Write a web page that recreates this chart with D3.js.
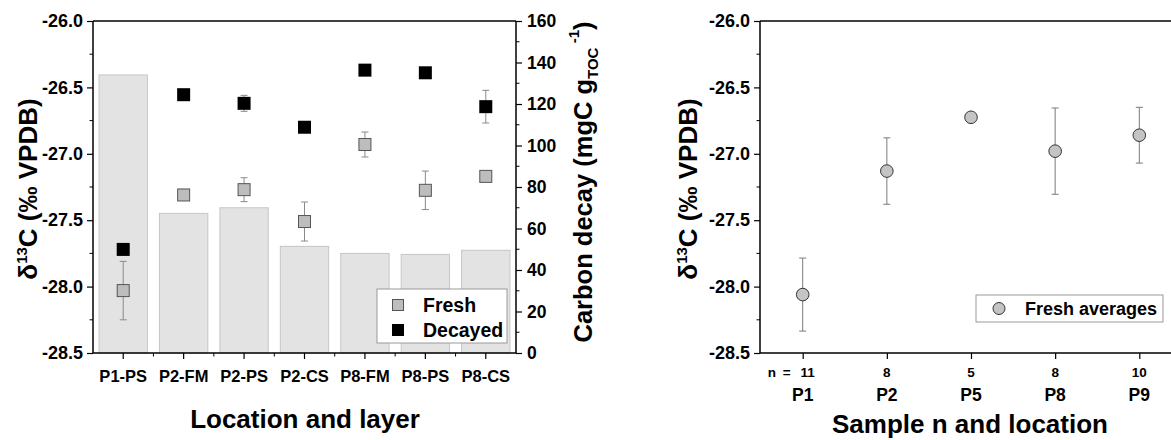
<!DOCTYPE html>
<html>
<head>
<meta charset="utf-8">
<script src="https://cdn.jsdelivr.net/npm/d3@7"></script>
<style>
  html, body { margin: 0; padding: 0; background: #fff; }
  svg { display: block; }
  svg text { font-family: "Liberation Sans", Arial, sans-serif; font-weight: bold; fill: #000; }
</style>
</head>
<body>
<svg id="chart" width="1171" height="440"></svg>
<script>
// ---- Left panel: location and layer ----
const layers = ["P1-PS", "P2-FM", "P2-PS", "P2-CS", "P8-FM", "P8-PS", "P8-CS"];
const carbonDecay = [134, 67.3, 70, 51.4, 48, 47.5, 49.5];           // mgC gTOC-1 (bars)
const freshD13C = [-28.03, -27.31, -27.27, -27.51, -26.93, -27.275, -27.17];
const freshErr = [0.22, 0.02, 0.09, 0.147, 0.094, 0.145, 0.02];
const decayedD13C = [-27.72, -26.555, -26.62, -26.80, -26.37, -26.39, -26.645];
const decayedErr = [0.0, 0.02, 0.06, 0.0, 0.0, 0.0, 0.123];

// ---- Right panel: fresh averages per location ----
const locations = ["P1", "P2", "P5", "P8", "P9"];
const sampleN = ["11", "8", "5", "8", "10"];
const freshAvg = [-28.06, -27.13, -26.725, -26.98, -26.86];
const freshAvgErr = [0.275, 0.25, 0.03, 0.325, 0.21];

const d13cTicks = [-28.5, -28.0, -27.5, -27.0, -26.5, -26.0];
const decayTicks = [0, 20, 40, 60, 80, 100, 120, 140, 160];

const svg = d3.select("#chart");
const fmt1 = v => d3.format(".1f")(v).replace("−", "-");

function styleAxis(ax, size) {
  ax.attr("font-family", null).attr("font-size", null);
  ax.selectAll("text").attr("font-size", size);
  ax.selectAll(".tick line").attr("stroke", "#000").attr("stroke-width", 1.2);
}

function errorBars(g, xs, ys, es, scale, color) {
  const cap = 3.5;
  xs.forEach((xv, i) => {
    if (!es[i]) return;
    const y0 = scale(ys[i] - es[i]), y1 = scale(ys[i] + es[i]);
    g.append("line").attr("x1", xv).attr("x2", xv).attr("y1", y0).attr("y2", y1)
      .attr("stroke", color).attr("stroke-width", 1);
    [y0, y1].forEach(yy => g.append("line").attr("x1", xv - cap).attr("x2", xv + cap)
      .attr("y1", yy).attr("y2", yy).attr("stroke", color).attr("stroke-width", 1));
  });
}

function deltaTitle(g, x, y) {
  const t = g.append("text").attr("transform", `translate(${x},${y}) rotate(-90)`)
    .attr("text-anchor", "middle").attr("font-size", 26);
  t.append("tspan").text("δ");
  t.append("tspan").attr("font-size", 15).attr("dy", -10).text("13");
  t.append("tspan").attr("dy", 10).text("C (‰ VPDB)");
}

// ===== Left panel =====
const L = { left: 93, right: 516, top: 21, bottom: 353 };
const x1 = d3.scaleBand().domain(layers).range([L.left, L.right]).paddingInner(0.2).paddingOuter(0.1);
const yL = d3.scaleLinear().domain([-28.5, -26]).range([L.bottom, L.top]);
const yR = d3.scaleLinear().domain([0, 160]).range([L.bottom, L.top]);

const g1 = svg.append("g");

// bars (carbon decay, right axis)
g1.selectAll("rect.bar").data(layers).join("rect")
  .attr("class", "bar")
  .attr("x", d => x1(d))
  .attr("width", x1.bandwidth())
  .attr("y", (d, i) => yR(carbonDecay[i]))
  .attr("height", (d, i) => yR(0) - yR(carbonDecay[i]))
  .attr("fill", "#e3e3e3")
  .attr("stroke", "#c6c6c6")
  .attr("stroke-width", 1);

const cx1 = layers.map(d => x1(d) + x1.bandwidth() / 2);
errorBars(g1, cx1, freshD13C, freshErr, yL, "#8a8a8a");
errorBars(g1, cx1, decayedD13C, decayedErr, yL, "#8a8a8a");

g1.selectAll("rect.fresh").data(freshD13C).join("rect")
  .attr("class", "fresh")
  .attr("x", (d, i) => cx1[i] - 6).attr("y", d => yL(d) - 6)
  .attr("width", 12).attr("height", 12)
  .attr("fill", "#bdbdbd").attr("stroke", "#555").attr("stroke-width", 1);
g1.selectAll("rect.decayed").data(decayedD13C).join("rect")
  .attr("class", "decayed")
  .attr("x", (d, i) => cx1[i] - 6.5).attr("y", d => yL(d) - 6.5)
  .attr("width", 13).attr("height", 13)
  .attr("fill", "#000");

// frame: top line
g1.append("line").attr("x1", L.left).attr("x2", L.right).attr("y1", L.top).attr("y2", L.top)
  .attr("stroke", "#000").attr("stroke-width", 1.5);

// left y axis
const axL = g1.append("g").attr("transform", `translate(${L.left},0)`)
  .call(d3.axisLeft(yL).tickValues(d13cTicks).tickSize(6).tickPadding(4).tickFormat(fmt1));
axL.select(".domain").attr("stroke-width", 1.5).attr("d", `M0,${L.bottom}V${L.top}`);
styleAxis(axL, 18);
g1.append("g").selectAll("line").data(d3.range(-28.25, -26, 0.5)).join("line")
  .attr("x1", L.left - 3.5).attr("x2", L.left).attr("y1", d => yL(d)).attr("y2", d => yL(d))
  .attr("stroke", "#000");

// right y axis
const axR = g1.append("g").attr("transform", `translate(${L.right},0)`)
  .call(d3.axisRight(yR).tickValues(decayTicks).tickSize(6).tickPadding(5));
axR.select(".domain").attr("stroke-width", 1.5).attr("d", `M0,${L.bottom}V${L.top}`);
styleAxis(axR, 17.5);
g1.append("g").selectAll("line").data(d3.range(10, 160, 20)).join("line")
  .attr("x1", L.right).attr("x2", L.right + 3.5).attr("y1", d => yR(d)).attr("y2", d => yR(d))
  .attr("stroke", "#000");

// bottom x axis
const axB = g1.append("g").attr("transform", `translate(0,${L.bottom})`)
  .call(d3.axisBottom(x1).tickSize(6).tickPadding(11));
axB.select(".domain").attr("stroke-width", 1.5).attr("d", `M${L.left},0H${L.right}`);
styleAxis(axB, 16.5);
g1.append("g").selectAll("line").data(layers.slice(1)).join("line")
  .attr("x1", d => x1(d) - x1.step() * x1.paddingInner() / 2)
  .attr("x2", d => x1(d) - x1.step() * x1.paddingInner() / 2)
  .attr("y1", L.bottom).attr("y2", L.bottom + 3.5).attr("stroke", "#000");

// axis titles
g1.append("text").attr("x", 305).attr("y", 428).attr("text-anchor", "middle")
  .attr("font-size", 26).text("Location and layer");

deltaTitle(g1, 37, 189);

const tr = g1.append("text").attr("transform", `translate(592,182) rotate(-90)`)
  .attr("text-anchor", "middle").attr("font-size", 25.5);
tr.append("tspan").text("Carbon decay (mgC g");
tr.append("tspan").attr("font-size", 15).attr("dy", 6).text("TOC");
tr.append("tspan").attr("font-size", 15).attr("dy", -19).text(" -1");
tr.append("tspan").attr("dy", 13).text(")");

// legend
const lg = g1.append("g");
lg.append("rect").attr("x", 377).attr("y", 289).attr("width", 130).attr("height", 54)
  .attr("fill", "#fff").attr("stroke", "#9a9a9a").attr("stroke-width", 1);
lg.append("rect").attr("x", 392.5).attr("y", 299.5).attr("width", 11).attr("height", 11)
  .attr("fill", "#bdbdbd").attr("stroke", "#555");
lg.append("rect").attr("x", 392).attr("y", 324).attr("width", 12).attr("height", 12)
  .attr("fill", "#000");
lg.append("text").attr("x", 423).attr("y", 312).attr("font-size", 19.5).text("Fresh");
lg.append("text").attr("x", 423).attr("y", 337).attr("font-size", 19.5).text("Decayed");

// ===== Right panel =====
const R = { left: 760, right: 1182, top: 21, bottom: 353 };
const x2 = d3.scalePoint().domain(locations).range([802.7, 1139.3]);
const y2 = d3.scaleLinear().domain([-28.5, -26]).range([R.bottom, R.top]);
const g2 = svg.append("g");

const cx2 = locations.map(d => x2(d));
errorBars(g2, cx2, freshAvg, freshAvgErr, y2, "#7a7a7a");
g2.selectAll("circle").data(freshAvg).join("circle")
  .attr("cx", (d, i) => cx2[i]).attr("cy", d => y2(d)).attr("r", 6.3)
  .attr("fill", "#c4c4c4").attr("stroke", "#333").attr("stroke-width", 1);

g2.append("line").attr("x1", R.left).attr("x2", R.right).attr("y1", R.top).attr("y2", R.top)
  .attr("stroke", "#000").attr("stroke-width", 1.5);

const ay2 = g2.append("g").attr("transform", `translate(${R.left},0)`)
  .call(d3.axisLeft(y2).tickValues(d13cTicks).tickSize(6).tickPadding(4).tickFormat(fmt1));
ay2.select(".domain").attr("stroke-width", 1.5).attr("d", `M0,${R.bottom}V${R.top}`);
styleAxis(ay2, 18);
g2.append("g").selectAll("line").data(d3.range(-28.25, -26, 0.5)).join("line")
  .attr("x1", R.left - 3.5).attr("x2", R.left).attr("y1", d => y2(d)).attr("y2", d => y2(d))
  .attr("stroke", "#000");

const ax2 = g2.append("g").attr("transform", `translate(0,${R.bottom})`)
  .call(d3.axisBottom(x2).tickSize(6).tickFormat(""));
ax2.select(".domain").attr("stroke-width", 1.5).attr("d", `M${R.left},0H${R.right}`);
styleAxis(ax2, 15);

// sample counts under each location
g2.append("g").selectAll("text").data(sampleN).join("text")
  .attr("x", (d, i) => i === 0 ? cx2[i] + 5 : cx2[i]).attr("y", 377)
  .attr("text-anchor", "middle").attr("font-size", 13.5).text(d => d);
g2.append("text").attr("x", cx2[0] - 35).attr("y", 377).attr("font-size", 13.5).text("n");
g2.append("text").attr("x", cx2[0] - 16).attr("y", 377).attr("text-anchor", "middle")
  .attr("font-size", 13.5).text("=");
g2.append("g").selectAll("text.loc").data(locations).join("text")
  .attr("class", "loc")
  .attr("x", d => x2(d)).attr("y", 401)
  .attr("text-anchor", "middle").attr("font-size", 17.5).text(d => d);

g2.append("text").attr("x", 970).attr("y", 433).attr("text-anchor", "middle")
  .attr("font-size", 26).text("Sample n and location");

deltaTitle(g2, 697, 189);

const lg2 = g2.append("g");
lg2.append("rect").attr("x", 976).attr("y", 295).attr("width", 187).attr("height", 27)
  .attr("fill", "#fff").attr("stroke", "#9a9a9a");
lg2.append("circle").attr("cx", 999).attr("cy", 308.5).attr("r", 6)
  .attr("fill", "#c4c4c4").attr("stroke", "#333");
lg2.append("text").attr("x", 1025).attr("y", 315).attr("font-size", 18).text("Fresh averages");
</script>
</body>
</html>
